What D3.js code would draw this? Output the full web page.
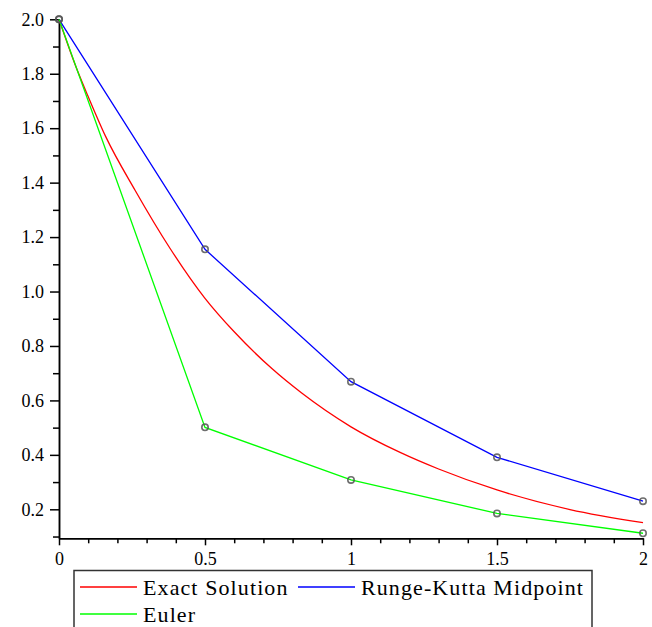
<!DOCTYPE html>
<html>
<head>
<meta charset="utf-8">
<script src="https://cdn.jsdelivr.net/npm/d3@7"></script>
<style>
  body { margin: 0; background: #fff; }
  svg { display: block; }
  .axis path, .axis line { stroke: #000; stroke-width: 1.5; }
</style>
</head>
<body>
<div id="chart"></div>
<script>
// step points of the two numerical methods
const stepX = [0, 0.5, 1, 1.5, 2];
const rungeKutta = [2.0, 1.155, 0.669, 0.391, 0.230];
const euler = [2.0, 0.501, 0.308, 0.185, 0.112];

// exact solution
const exactX = [0, 0.06, 0.1, 0.16, 0.26, 0.38, 0.5, 0.6, 0.73, 0.83, 1.0, 1.17, 1.3, 1.5, 1.75, 2.0];
const exactY = [2.0, 1.82, 1.716, 1.569, 1.373, 1.159, 0.975, 0.852, 0.716, 0.628, 0.503, 0.408, 0.348, 0.271, 0.199, 0.151];

const xTicks = [0, 0.5, 1, 1.5, 2];
const xTickLabels = ["0", "0.5", "1", "1.5", "2"];
const yTicks = [0.2, 0.4, 0.6, 0.8, 1.0, 1.2, 1.4, 1.6, 1.8, 2.0];
const legendNames = ["Exact Solution", "Runge-Kutta Midpoint", "Euler"];

const width = 652, height = 627;
const yMin = 0.0935, yMax = 2.0;
const serif = '"Liberation Serif", "Times New Roman", "DejaVu Serif", serif';

const svg = d3.select("#chart").append("svg")
    .attr("width", width)
    .attr("height", height);

const x = d3.scaleLinear().domain([0, 2]).range([59, 643]);
const y = d3.scaleLinear().domain([yMin, yMax]).range([538.3, 19.3]);

// minor ticks every 0.1
const xMinor = d3.range(1, 20).map(i => i / 10).filter(v => !xTicks.some(t => Math.abs(t - v) < 1e-9));
const yMinor = d3.range(1, 20).map(i => i / 10).filter(v => v > yMin && !yTicks.some(t => Math.abs(t - v) < 1e-9));

function styleAxis(g) {
    g.attr("class", "axis")
        .attr("font-family", serif)
        .attr("font-size", 18);
    g.selectAll("text").attr("fill", "#000");
}

svg.append("g")
    .attr("transform", `translate(0,${y(yMin)})`)
    .call(d3.axisBottom(x).tickValues(xMinor).tickSize(5).tickSizeOuter(0).tickFormat(""))
    .call(styleAxis);

svg.append("g")
    .attr("transform", `translate(0,${y(yMin)})`)
    .call(d3.axisBottom(x).tickValues(xTicks).tickSize(7).tickSizeOuter(0).tickPadding(7)
        .tickFormat((d, i) => xTickLabels[i]))
    .call(styleAxis);

svg.append("g")
    .attr("transform", `translate(${x(0)},0)`)
    .call(d3.axisLeft(y).tickValues(yMinor).tickSize(6).tickSizeOuter(0).tickFormat(""))
    .call(styleAxis);

svg.append("g")
    .attr("transform", `translate(${x(0)},0)`)
    .call(d3.axisLeft(y).tickValues(yTicks).tickSize(9).tickSizeOuter(0).tickPadding(6)
        .tickFormat(d3.format(".1f")))
    .call(styleAxis);

const line = d3.line()
    .x(d => x(d[0]))
    .y(d => y(d[1]));

const exactData = exactX.map((v, i) => [v, exactY[i]]);
const rkData = stepX.map((v, i) => [v, rungeKutta[i]]);
const eulerData = stepX.map((v, i) => [v, euler[i]]);

svg.append("path")
    .datum(exactData)
    .attr("fill", "none")
    .attr("stroke", "#ff0000")
    .attr("stroke-width", 1.3)
    .attr("d", line.curve(d3.curveMonotoneX));

line.curve(d3.curveLinear);

svg.append("path")
    .datum(rkData)
    .attr("fill", "none")
    .attr("stroke", "#0000ff")
    .attr("stroke-width", 1.3)
    .attr("d", line);

svg.append("path")
    .datum(eulerData)
    .attr("fill", "none")
    .attr("stroke", "#00ff00")
    .attr("stroke-width", 1.3)
    .attr("d", line);

// step markers
svg.append("g")
    .selectAll("circle")
    .data(rkData.concat(eulerData))
    .join("circle")
    .attr("cx", d => x(d[0]))
    .attr("cy", d => y(d[1]))
    .attr("r", 3.2)
    .attr("fill", "none")
    .attr("stroke", "#555")
    .attr("stroke-opacity", 0.85)
    .attr("stroke-width", 1.6);

// legend
const legend = svg.append("g")
    .attr("font-family", serif)
    .attr("font-size", 22)
    .attr("letter-spacing", "1.1px");

legend.append("rect")
    .attr("x", 74)
    .attr("y", 570.5)
    .attr("width", 518)
    .attr("height", 80)
    .attr("fill", "#fff")
    .attr("stroke", "#333")
    .attr("stroke-width", 1.5);

const legendColors = ["#ff0000", "#0000ff", "#00ff00"];
const legendPos = [[80, 587], [298, 587], [80, 614]];

legendNames.forEach((name, i) => {
    const [lx, ly] = legendPos[i];
    legend.append("line")
        .attr("x1", lx)
        .attr("x2", lx + 57)
        .attr("y1", ly)
        .attr("y2", ly)
        .attr("stroke", legendColors[i])
        .attr("stroke-width", 1.5);
    legend.append("text")
        .attr("x", lx + 63)
        .attr("y", ly + 8)
        .attr("fill", "#000")
        .text(name);
});
</script>
</body>
</html>
